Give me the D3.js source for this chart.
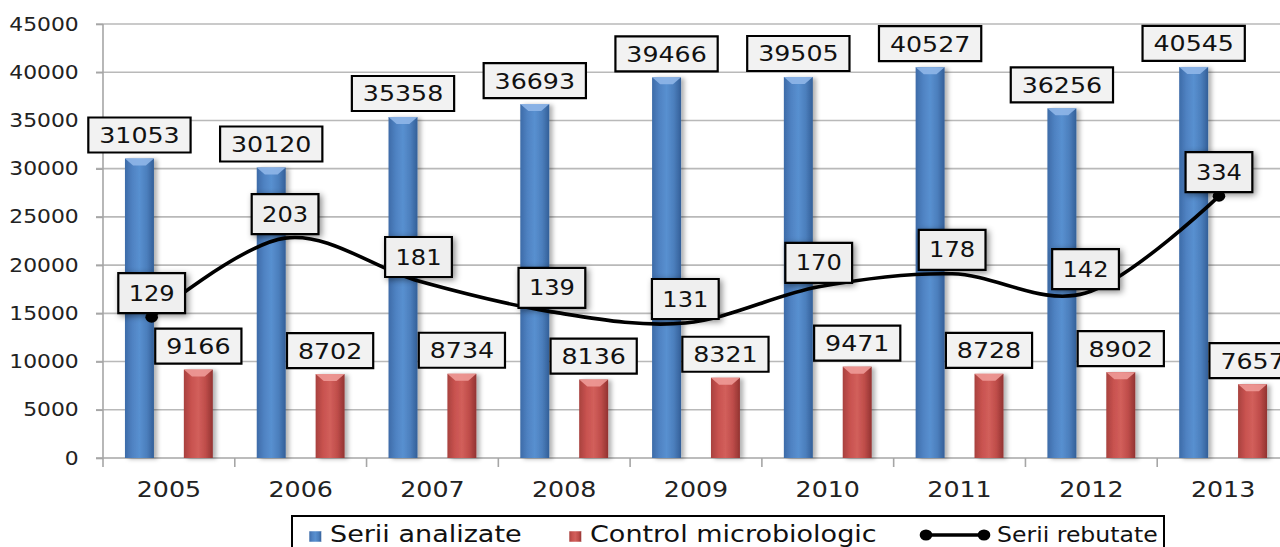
<!DOCTYPE html>
<html>
<head>
<meta charset="utf-8">
<script src="https://cdn.jsdelivr.net/npm/d3@7"></script>
<style>
  body { margin: 0; background: #fff; }
  text { font-family: "DejaVu Sans", Verdana, sans-serif; }
</style>
</head>
<body>
<script>
const years = ['2005', '2006', '2007', '2008', '2009', '2010', '2011', '2012', '2013'];
const analizate = [31053, 30120, 35358, 36693, 39466, 39505, 40527, 36256, 40545];
const control = [9166, 8702, 8734, 8136, 8321, 9471, 8728, 8902, 7657];
const rebutate = [129, 203, 181, 139, 131, 170, 178, 142, 334];
// height of the smoothed "Serii rebutate" line, read against the left axis
const rebutateLine = [14600, 22800, 18350, 15150, 14000, 17750, 19100, 17100, 27150];
const yTicks = [0, 5000, 10000, 15000, 20000, 25000, 30000, 35000, 40000, 45000];
const seriesNames = ['Serii analizate', 'Control microbiologic', 'Serii rebutate'];

// the whole picture is a bit stretched sideways
const SX = 1.15;
const width = 1280, height = 547;
const plotLeft = 103 / SX, plotRight = 1289 / SX, plotTop = 24, plotBottom = 458;

const svg = d3.select('body')
    .append('svg')
    .attr('width', width)
    .attr('height', height);

const defs = svg.append('defs');

function barGradient(id, colors) {
    const grad = defs.append('linearGradient')
        .attr('id', id)
        .attr('x1', '0%').attr('x2', '100%')
        .attr('y1', '0%').attr('y2', '0%');
    colors.forEach((c, i) => {
        grad.append('stop')
            .attr('offset', (i / (colors.length - 1) * 100) + '%')
            .attr('stop-color', c);
    });
}
barGradient('blueGrad', ['#3d6ba8', '#4f82c2', '#5890d0', '#4c7fbd', '#335f98']);
barGradient('redGrad', ['#a8413e', '#c8524f', '#d25f5b', '#bf4d4a', '#923331']);

const barShadow = defs.append('filter').attr('id', 'barShadow')
    .attr('x', '-30%').attr('y', '-10%').attr('width', '180%').attr('height', '130%');
barShadow.append('feDropShadow')
    .attr('dx', 3).attr('dy', 1).attr('stdDeviation', 2)
    .attr('flood-color', '#000').attr('flood-opacity', 0.3);

const boxShadow = defs.append('filter').attr('id', 'boxShadow')
    .attr('x', '-30%').attr('y', '-30%').attr('width', '170%').attr('height', '170%');
boxShadow.append('feDropShadow')
    .attr('dx', 2).attr('dy', 2).attr('stdDeviation', 3)
    .attr('flood-color', '#000').attr('flood-opacity', 0.45);

const g = svg.append('g').attr('transform', `scale(${SX},1)`);

const y = d3.scaleLinear().domain([0, 45000]).range([plotBottom, plotTop]);
const x0 = d3.scaleBand().domain(years).range([plotLeft, plotRight]);
const x1 = d3.scaleBand()
    .domain(['analizate', 'control'])
    .range([0, x0.bandwidth()])
    .paddingInner(0.508)
    .paddingOuter(0.373);
const xl = d3.scalePoint().domain(years).range([plotLeft, plotRight]).padding(0.445).align(0.41);

// gridlines
g.append('g')
    .selectAll('line')
    .data(yTicks.filter(d => d > 0))
    .join('line')
    .attr('x1', plotLeft - 7 / SX)
    .attr('x2', plotRight)
    .attr('y1', d => y(d))
    .attr('y2', d => y(d))
    .attr('stroke', '#b9b9b9')
    .attr('stroke-width', 1.6)
    .attr('vector-effect', 'non-scaling-stroke');

// y axis
const yAxis = g.append('g')
    .attr('transform', `translate(${plotLeft},0)`)
    .call(d3.axisLeft(y).tickValues(yTicks).tickFormat(d3.format('d')).tickSize(7 / SX).tickPadding(15));
yAxis.select('.domain').remove();
yAxis.selectAll('line')
    .attr('stroke', '#a6a6a6')
    .attr('stroke-width', 1.6)
    .attr('vector-effect', 'non-scaling-stroke');
yAxis.selectAll('text')
    .attr('font-family', '"DejaVu Sans", Verdana, sans-serif')
    .attr('font-size', 19)
    .attr('fill', '#222');

g.append('line')
    .attr('x1', plotLeft).attr('x2', plotLeft)
    .attr('y1', plotTop).attr('y2', plotBottom + 9)
    .attr('stroke', '#a6a6a6')
    .attr('stroke-width', 1.6)
    .attr('vector-effect', 'non-scaling-stroke');

// x axis
g.append('line')
    .attr('x1', plotLeft - 7 / SX).attr('x2', plotRight)
    .attr('y1', plotBottom).attr('y2', plotBottom)
    .attr('stroke', '#a6a6a6')
    .attr('stroke-width', 1.6)
    .attr('vector-effect', 'non-scaling-stroke');

g.append('g')
    .selectAll('line')
    .data(years.slice(1))
    .join('line')
    .attr('x1', d => x0(d)).attr('x2', d => x0(d))
    .attr('y1', plotBottom).attr('y2', plotBottom + 9)
    .attr('stroke', '#a6a6a6')
    .attr('stroke-width', 1.6)
    .attr('vector-effect', 'non-scaling-stroke');

g.append('g')
    .selectAll('text')
    .data(years)
    .join('text')
    .attr('x', d => x0(d) + x0.bandwidth() / 2)
    .attr('y', 497)
    .attr('text-anchor', 'middle')
    .attr('font-size', 22)
    .attr('fill', '#222')
    .text(d => d);

// bars
const bars = [];
years.forEach((yr, i) => {
    bars.push({ year: yr, key: 'analizate', value: analizate[i] });
    bars.push({ year: yr, key: 'control', value: control[i] });
});
const fills = { analizate: 'url(#blueGrad)', control: 'url(#redGrad)' };
const caps = { analizate: '#8fb6e8', control: '#ee9a97' };

const barG = g.append('g')
    .selectAll('g')
    .data(bars)
    .join('g')
    .attr('filter', 'url(#barShadow)');

barG.append('rect')
    .attr('x', d => x0(d.year) + x1(d.key))
    .attr('y', d => y(d.value))
    .attr('width', x1.bandwidth())
    .attr('height', d => y(0) - y(d.value))
    .attr('fill', d => fills[d.key]);

barG.append('polygon')
    .attr('points', d => {
        const bx = x0(d.year) + x1(d.key), bw = x1.bandwidth(), by = y(d.value);
        return [[bx, by], [bx + bw, by], [bx + bw * 0.72, by + 7], [bx + bw * 0.28, by + 7]].join(' ');
    })
    .attr('fill', d => caps[d.key])
    .attr('opacity', 0.9);

// label boxes
function labelBox(sel, opts) {
    sel.each(function (d) {
        const lg = d3.select(this);
        const t = lg.append('text')
            .attr('text-anchor', 'middle')
            .attr('font-size', opts.fontSize)
            .attr('y', opts.fontSize * 0.36)
            .attr('fill', '#111')
            .text(opts.text(d));
        const w = t.node().getComputedTextLength() + opts.pad;
        lg.insert('rect', 'text')
            .attr('x', -w / 2)
            .attr('y', -opts.h / 2)
            .attr('width', w)
            .attr('height', opts.h)
            .attr('fill', opts.fill)
            .attr('stroke', '#000')
            .attr('stroke-width', 2.2)
            .attr('vector-effect', 'non-scaling-stroke')
            .attr('filter', opts.shadow ? 'url(#boxShadow)' : null);
    });
}

g.append('g')
    .selectAll('g')
    .data(bars)
    .join('g')
    .attr('transform', d => `translate(${x0(d.year) + x1(d.key) + x1.bandwidth() / 2},${y(d.value) - 6 - 17.5})`)
    .call(labelBox, { fontSize: 22, pad: 19, h: 35, fill: '#f2f2f2', shadow: false, text: d => d.value });

// line series
const lineData = years.map((yr, i) => ({ year: yr, v: rebutateLine[i], label: rebutate[i] }));

g.append('path')
    .datum(lineData)
    .attr('fill', 'none')
    .attr('stroke', '#000')
    .attr('stroke-width', 3.6)
    .attr('vector-effect', 'non-scaling-stroke')
    .attr('d', d3.line()
        .x(d => xl(d.year))
        .y(d => y(d.v))
        .curve(d3.curveCatmullRom.alpha(0)));

g.append('g')
    .selectAll('circle')
    .data(lineData.filter((d, i) => i === 0 || i === lineData.length - 1))
    .join('circle')
    .attr('cx', d => xl(d.year))
    .attr('cy', d => y(d.v))
    .attr('r', 5.5)
    .attr('fill', '#000');

g.append('g')
    .selectAll('g')
    .data(lineData)
    .join('g')
    .attr('transform', d => `translate(${xl(d.year)},${y(d.v) - 4 - 20})`)
    .call(labelBox, { fontSize: 21, pad: 18, h: 40, fill: '#efefef', shadow: true, text: d => d.label });

// legend
const legend = g.append('g');
legend.append('rect')
    .attr('x', 292 / SX)
    .attr('y', 516)
    .attr('width', (1164 - 292) / SX)
    .attr('height', 60)
    .attr('fill', '#fff')
    .attr('stroke', '#000')
    .attr('stroke-width', 2)
    .attr('vector-effect', 'non-scaling-stroke');

const legendItems = [
    { name: seriesNames[0], type: 'box', fill: 'url(#blueGrad)', x: 309 / SX, tx: 330 / SX, size: 23.5 },
    { name: seriesNames[1], type: 'box', fill: 'url(#redGrad)', x: 569 / SX, tx: 590 / SX, size: 23.5 },
    { name: seriesNames[2], type: 'line', x: 926 / SX, tx: 997 / SX, size: 20.5 }
];

legendItems.forEach(it => {
    if (it.type === 'box') {
        legend.append('rect')
            .attr('x', it.x).attr('y', 531)
            .attr('width', 11).attr('height', 11)
            .attr('fill', it.fill)
            .attr('stroke', '#fff')
            .attr('stroke-width', 0.5);
    } else {
        const x2 = it.x + 58 / SX;
        legend.append('line')
            .attr('x1', it.x).attr('x2', x2)
            .attr('y1', 535).attr('y2', 535)
            .attr('stroke', '#000')
            .attr('stroke-width', 3.5)
            .attr('vector-effect', 'non-scaling-stroke');
        legend.selectAll(null)
            .data([it.x, x2])
            .join('circle')
            .attr('cx', d => d).attr('cy', 535).attr('r', 5.5)
            .attr('fill', '#000');
    }
    legend.append('text')
        .attr('x', it.tx)
        .attr('y', 542)
        .attr('font-size', it.size)
        .attr('fill', '#111')
        .text(it.name);
});
</script>
</body>
</html>
